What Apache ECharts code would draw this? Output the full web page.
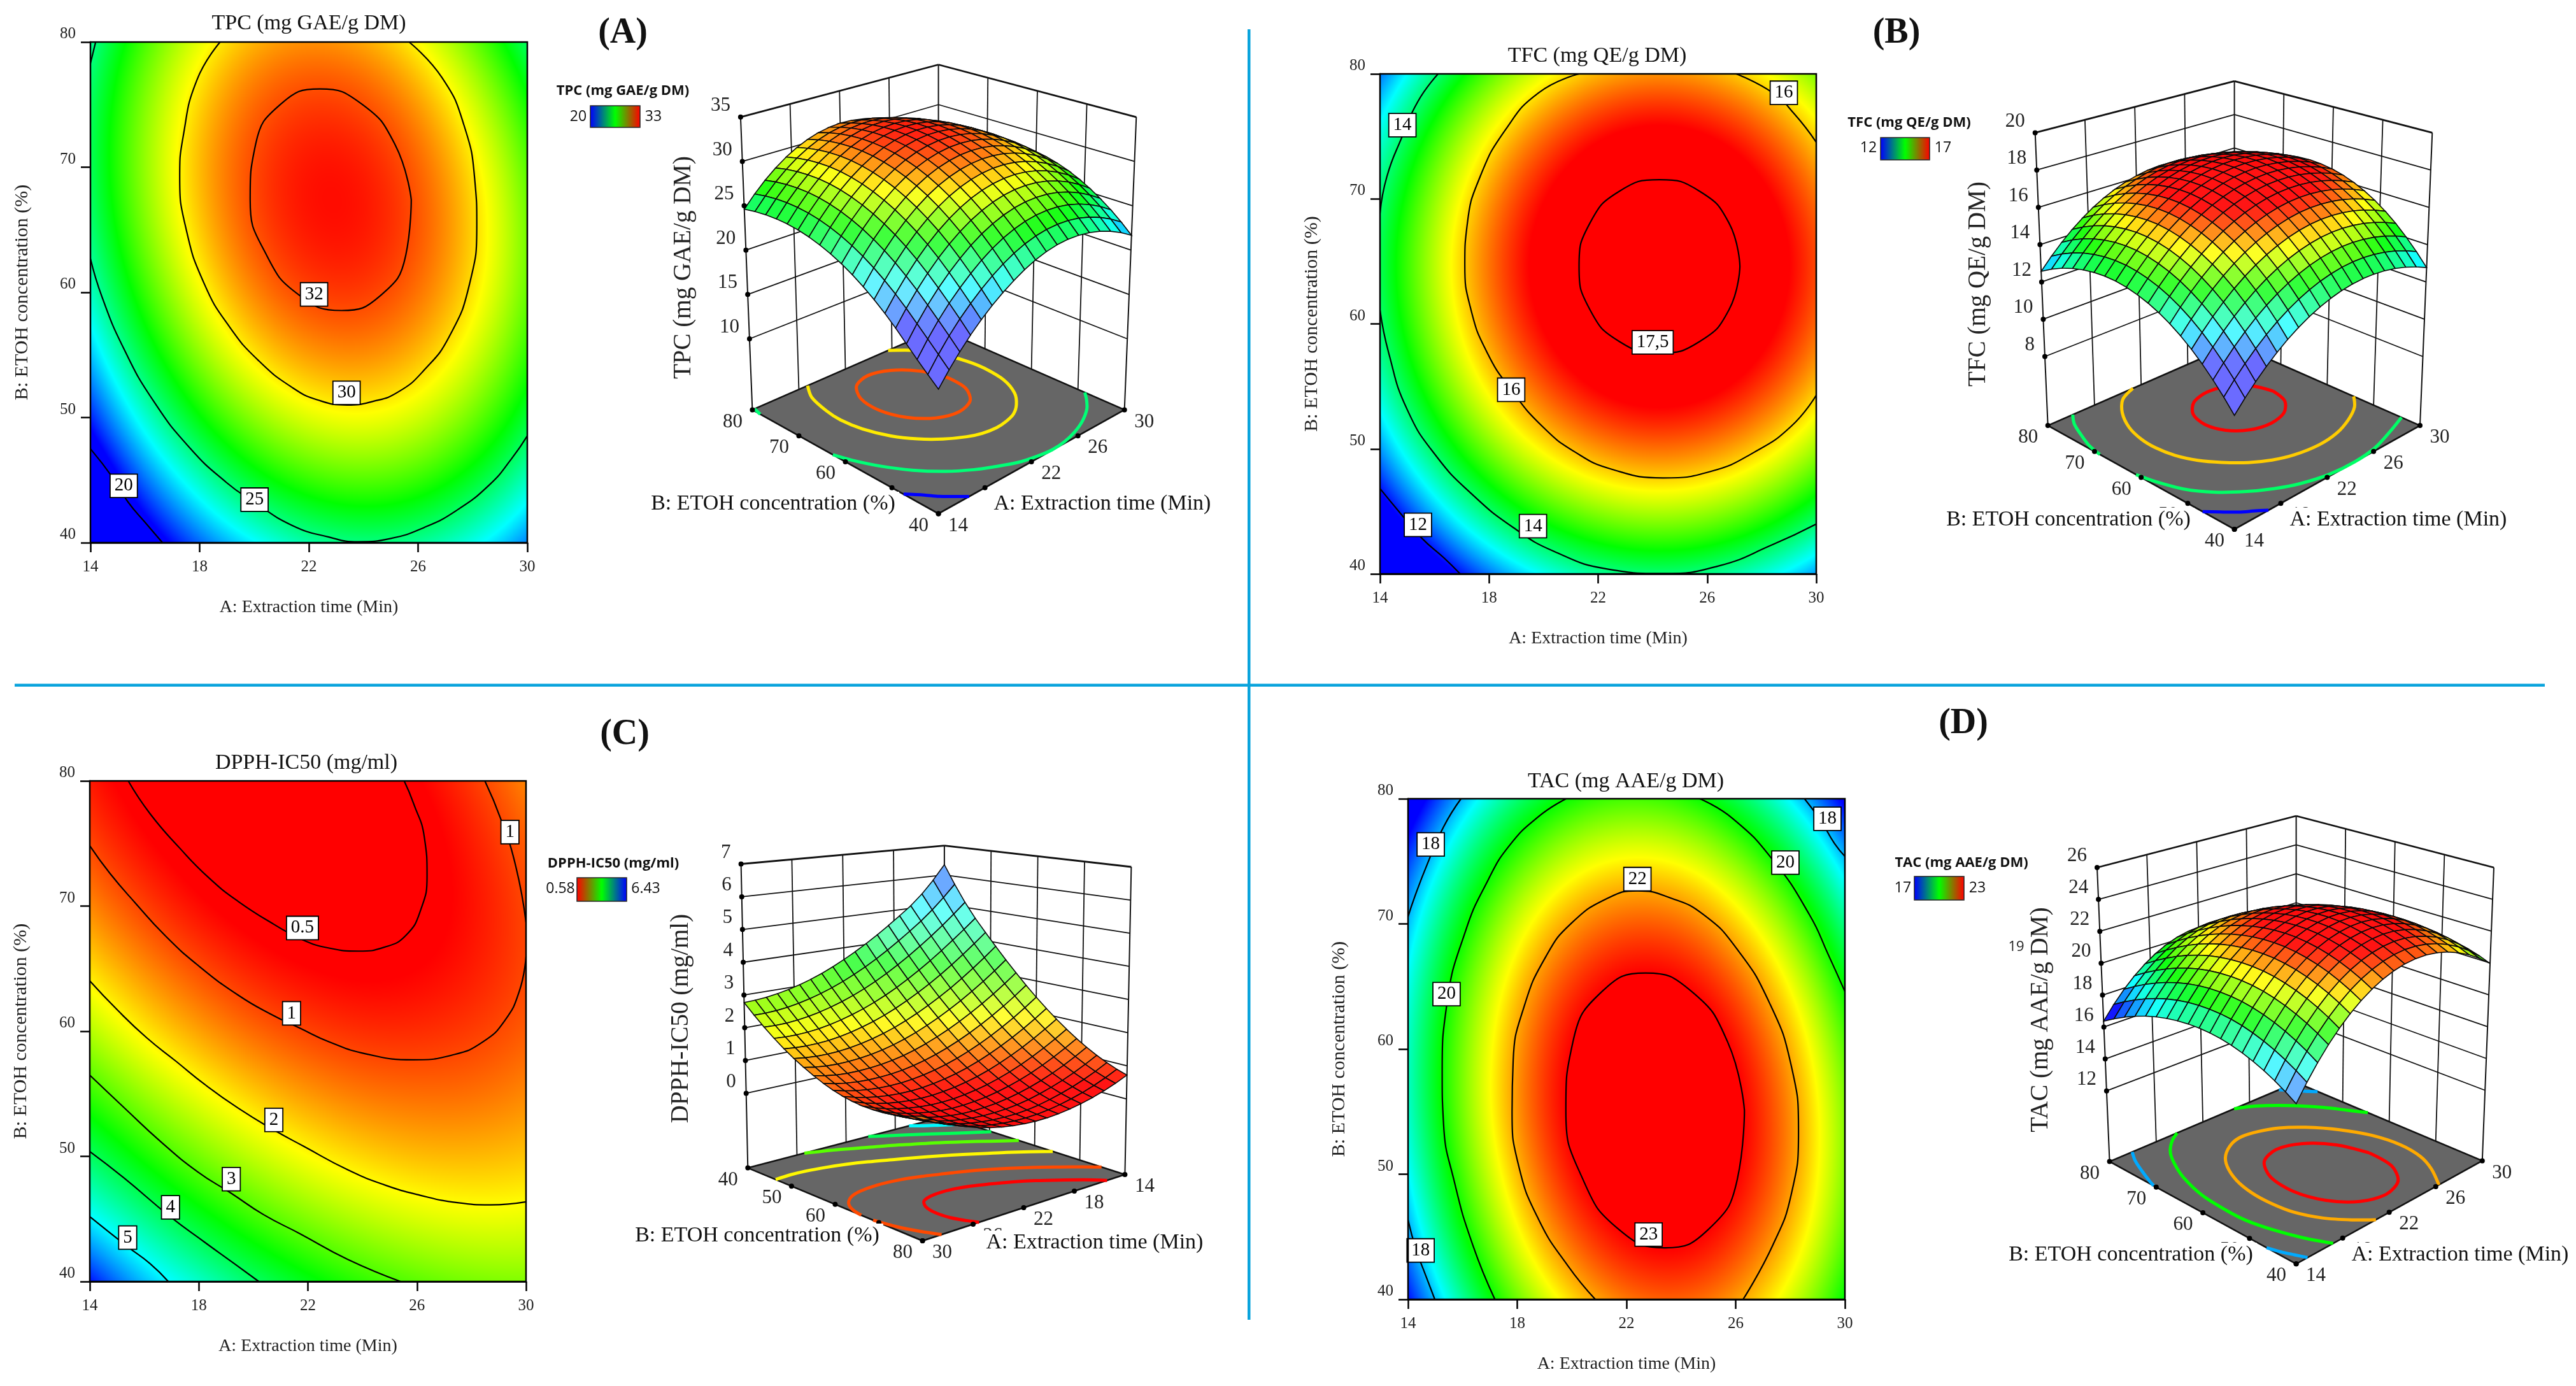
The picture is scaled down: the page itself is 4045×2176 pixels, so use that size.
<!DOCTYPE html>
<html><head><meta charset="utf-8"><style>html,body{margin:0;padding:0;background:#fff}#c{width:4045px;height:2176px}</style>
<script src="https://cdn.jsdelivr.net/npm/echarts@6/dist/echarts.min.js"></script></head>
<body><div id="c"></div><script>
// ---------- values ----------
const timeNodes=[14,16,18,20,22,24,26,28,30];
const etohNodes=[40,45,50,55,60,65,70,75,80];
const timeTicks=[14,18,22,26,30];
const etohTicks=[40,50,60,70,80];
const tpcGrid=[
[15.6,18.8,21.3,23.13,24.4,24.89,24.59,23.52,21.67],
[17.9,21.4,24.01,25.97,27.14,27.53,27.14,25.96,24.01],
[20.4,23.79,26.42,28.27,29.34,29.63,29.14,27.87,25.81],
[22.44,25.75,28.28,30.04,31.0,31.19,30.6,29.23,27.08],
[23.97,27.17,29.6,31.26,32.13,32.22,31.52,30.05,27.8],
[24.94,28.05,30.37,31.93,32.7,32.69,31.9,30.32,27.97],
[25.37,28.38,30.61,32.06,32.73,32.62,31.73,30.06,27.6],
[25.25,28.16,30.29,31.65,32.21,32.0,31.01,29.24,26.69],
[24.61,27.41,29.44,30.7,31.17,30.86,29.76,27.89,25.24]];
const tfcGrid=[
[10.22,11.53,12.56,13.30,13.76,13.94,13.83,13.44,12.77],
[11.63,12.94,13.97,14.71,15.17,15.35,15.24,14.85,14.18],
[12.73,14.04,15.07,15.81,16.27,16.45,16.34,15.95,15.28],
[13.50,14.81,15.84,16.58,17.04,17.22,17.11,16.72,16.05],
[13.95,15.26,16.29,17.03,17.49,17.67,17.56,17.17,16.50],
[14.09,15.40,16.43,17.17,17.63,17.81,17.70,17.31,16.64],
[13.90,15.21,16.24,16.98,17.44,17.62,17.51,17.12,16.45],
[13.40,14.71,15.74,16.48,16.94,17.12,17.01,16.62,15.95],
[12.57,13.88,14.91,15.65,16.11,16.29,16.18,15.79,15.12]];
const ic50Grid=[
[6.35,5.34,4.66,4.09,3.62,3.25,2.99,2.83,2.77],
[5.04,4.32,3.70,3.18,2.77,2.47,2.27,2.17,2.18],
[4.07,3.41,2.85,2.40,2.05,1.81,1.67,1.64,1.71],
[3.22,2.62,2.13,1.74,1.45,1.27,1.20,1.22,1.36],
[2.48,1.94,1.51,1.18,0.96,0.84,0.83,0.92,1.11],
[1.86,1.39,1.02,0.75,0.59,0.53,0.58,0.73,0.99],
[1.36,0.95,0.64,0.44,0.34,0.34,0.46,0.67,0.99],
[0.98,0.63,0.39,0.24,0.21,0.28,0.45,0.73,1.11],
[0.72,0.43,0.25,0.17,0.20,0.33,0.56,0.90,1.34]];
const tacGrid=[
[17.06,19.09,20.63,21.70,22.30,22.43,22.08,21.26,19.97],
[17.89,19.88,21.39,22.42,22.98,23.08,22.68,21.83,20.50],
[18.46,20.41,21.88,22.88,23.40,23.46,23.03,22.14,20.76],
[18.78,20.69,22.12,23.08,23.56,23.58,23.11,22.18,20.77],
[18.82,20.69,22.08,23.01,23.45,23.43,22.93,21.96,20.51],
[18.60,20.44,21.79,22.67,23.08,23.02,22.48,21.47,19.99],
[18.12,19.92,21.24,22.08,22.45,22.36,21.77,20.73,19.21],
[17.37,19.13,20.41,21.22,21.55,21.42,20.80,19.72,18.15],
[16.37,18.09,19.33,20.10,20.39,20.22,19.56,18.44,16.84]];
const tpcContours=[
{level:32,pts:[[25.75,67.4],[25.15,71.83],[23.93,75.06],[22.4,76.25],[20.98,75.06],[20.05,71.83],[19.85,67.4],[20.45,62.98],[21.67,59.74],[23.2,58.55],[24.62,59.74],[25.55,62.98],[25.75,67.4]]},
{level:30,pts:[[18.75,80],[17.9,76.97],[17.4,72.5],[17.27,69.23],[17.5,65.1],[18.18,60.63],[19.11,57.2],[20.18,54.5],[21.39,52.4],[22.33,51.4],[23.4,51],[24.33,51.28],[25.27,52.04],[26.21,53.76],[27.15,56.5],[27.88,60.63],[28.15,65.45],[28.08,68.89],[27.68,73.36],[26.88,77.14],[25.67,80]]},
{level:25,pts:[[14,62.7],[14.43,59.6],[15.23,55.47],[16.3,51.35],[17.64,47.57],[18.98,44.81],[19.98,43.27],[21.39,41.38],[22.73,40.45],[23.8,40.07],[25,40.34],[26.21,41.2],[27.41,42.58],[28.62,44.64],[29.42,46.7],[30,48.53]]},
{level:25,pts:[[14,78.3],[14.19,80]]},
{level:20,pts:[[14,47.5],[14.83,45.16],[15.37,43.27],[16.03,41.55],[16.64,40]]}];
const tpcLabels=[['32',22.19,59.84],['30',23.38,51.97],['25',20.01,43.44],['20',15.22,44.54]];
const tfcContours=[
{level:17.5,pts:[[27.2,64.6],[26.8,68.07],[25.73,70.6],[24.25,71.53],[22.77,70.6],[21.7,68.07],[21.3,64.6],[21.7,61.13],[22.77,58.6],[24.25,57.67],[25.73,58.6],[26.8,61.13],[27.2,64.6]]},
{level:16,pts:[[21.3,80],[19.82,78.49],[18.61,75.56],[17.67,71.77],[17.2,67.99],[17.11,64.72],[17.34,61.1],[17.94,57.66],[18.81,54.73],[19.95,51.81],[21.16,49.74],[22.5,48.37],[24.38,47.68],[26.12,48.19],[27.73,49.74],[29.08,51.81],[30,54.29]]},
{level:16,pts:[[27.06,80],[28.4,78.49],[29.21,76.76],[30,74.53]]},
{level:14,pts:[[16.13,80],[15.39,77.8],[14.79,74.87],[14.25,71.77],[14,68.85]]},
{level:14,pts:[[14,61.1],[14.32,57.66],[14.99,53.18],[16.07,49.4],[17.41,46.3],[18.88,43.72],[20.36,41.82],[22.37,40.38],[24.38,40.03],[26.39,40.62],[28.4,42.34],[30,43.99]]},
{level:12,pts:[[14,46.82],[14.72,44.92],[15.53,42.86],[16.33,41.31],[16.94,40]]}];
const tfcLabels=[['17,5',24.0,58.52],['16',18.81,54.73],['16',28.81,78.49],['14',14.82,75.9],['14',19.61,43.82],['12',15.39,43.92]];
const ic50Contours=[
{level:0.5,pts:[[15.41,80],[16.21,77.38],[17.29,74.65],[18.36,72.27],[19.43,70.39],[20.77,68.52],[21.78,67.33],[22.78,66.64],[23.86,66.4],[24.8,66.71],[25.6,67.67],[26.14,69.71],[26.37,72.44],[26.27,75.5],[25.87,78.23],[25.53,80]]},
{level:1,pts:[[14,74.82],[14.74,72.61],[15.68,70.22],[16.75,67.67],[17.96,65.28],[19.43,62.9],[20.64,61.36],[21.71,60.24],[22.78,59.15],[24.13,58.19],[25.87,57.72],[27.35,58.13],[28.42,59.15],[29.22,60.85],[29.76,63.24],[30,65.96]]},
{level:1,pts:[[28.49,80],[29.09,76.87],[29.63,73.12],[30,68.69]]},
{level:2,pts:[[14,64.02],[15.01,61.7],[16.08,59.49],[17.15,57.62],[18.22,55.74],[19.43,53.87],[20.71,52.16],[21.85,50.8],[23.46,48.93],[24.8,47.73],[26.14,46.88],[27.48,46.3],[28.69,46.13],[30,46.37]]},
{level:3,pts:[[14,56.49],[15.27,53.87],[16.62,51.14],[17.96,48.76],[19.19,47.05],[20.37,45.35],[21.71,43.82],[23.46,41.77],[25.4,40]]},
{level:4,pts:[[14,50.39],[15.27,48.25],[16.95,45.18],[18.22,43.13],[19.3,41.43],[20.2,40]]},
{level:5,pts:[[14,45.18],[15.38,42.79],[16.21,41.43],[16.88,40]]}];
const ic50Labels=[['0.5',21.8,68.25],['1',21.4,61.43],['1',29.41,75.91],['2',20.75,52.91],['3',19.19,48.18],['4',16.96,45.93],['5',15.39,43.51]];
const tacContours=[
{level:23,pts:[[26.32,55.1],[25.7,60.59],[24.38,64.61],[22.7,66.08],[21.11,64.61],[20.04,60.59],[19.78,55.1],[20.4,49.61],[21.72,45.59],[23.4,44.12],[25.0,45.59],[26.06,49.61],[26.32,55.1]]},
{level:22,pts:[[20.86,40],[19.86,42.67],[18.79,46.35],[18.05,50.69],[17.81,55.03],[17.85,59.04],[18.25,63.39],[19.05,67.4],[19.99,70.07],[21.33,72.07],[22.4,72.64],[23.61,72.07],[24.82,70.74],[26.02,68.07],[27.23,63.72],[28.03,58.71],[28.3,53.36],[28.03,48.35],[27.36,44.34],[26.27,40]]},
{level:20,pts:[[17.18,40],[16.37,44.34],[15.7,49.36],[15.3,54.03],[15.25,58.04],[15.43,63.72],[16.1,69.4],[16.91,73.41],[17.71,76.25],[18.79,78.59],[19.79,80]]},
{level:20,pts:[[24.68,80],[25.89,78.42],[27.37,75.08],[28.7,70.74],[29.4,67.5],[30,64.6]]},
{level:18,pts:[[15.94,80],[15.3,77.75],[14.7,74.75],[14.23,72.08],[14,70.57]]},
{level:18,pts:[[14,46.35],[14.29,44.01],[14.63,42],[14.98,40]]},
{level:18,pts:[[28.52,80],[29.11,78.26],[29.62,76.42],[30,75.4]]}];
const tacLabels=[['22',22.4,73.58],['23',22.81,45.18],['20',15.41,64.39],['20',27.82,74.9],['18',14.83,76.35],['18',14.46,43.91],['18',29.36,78.4]];
const tpcZTicks=[10,15,20,25,30,35];
const tfcZTicks=[8,10,12,14,16,18,20];
const ic50ZTicks=[0,1,2,3,4,5,6,7];
const tacZTicks=[12,14,16,18,20,22,24,26];

// ---------- layout ----------
const SERIF='"Liberation Serif"';
const panels=[
{grid:tpcGrid,contours:tpcContours,labels:tpcLabels,zTicks:tpcZTicks,min:20,max:33,invert:false,lo:'20',hi:'33',
 title:'TPC (mg GAE/g DM)',plot:{l:142,r:828,t:66,b:852},titleAt:[485,37],yNameX:34,
 tag:'(A)',tagAt:[978,53],legAt:[978,143],bar:[927,166,78,34],loAt:[908,183],hiAt:[1026,183],
 zFloor:2,zTop:35,corner:{L:[14,80],B:[30,80],R:[30,40],F:[14,40]},
 floor:{L:[1181.4,643.4],F:[1473.6,806.4],R:[1765.7,643.4],B:[1473.6,515.6]},
 top:{L:[1162.9,183.8],F:[1473.6,332.4],R:[1784.3,183.8],B:[1473.6,101.5]},
 zTitleAt:[1074,420],bTitleAt:[1214,791],aTitleAt:[1731,791]},
{grid:tfcGrid,contours:tfcContours,labels:tfcLabels,zTicks:tfcZTicks,min:12,max:17,invert:false,lo:'12',hi:'17',
 title:'TFC (mg QE/g DM)',plot:{l:2167,r:2852,t:116,b:901},titleAt:[2508,88],yNameX:2059,
 tag:'(B)',tagAt:[2978,53],legAt:[2998,193],bar:[2953,216,77,35],loAt:[2934,232],hiAt:[3051,232],
 zFloor:4.3,zTop:20,corner:{L:[14,80],B:[30,80],R:[30,40],F:[14,40]},
 floor:{L:[3215.7,668.1],F:[3508.6,831],R:[3800,668.1],B:[3508.6,540]},
 top:{L:[3195.7,208.4],F:[3508.6,357],R:[3819.3,208.4],B:[3508.6,127.3]},
 zTitleAt:[3107,446],bTitleAt:[3248,816],aTitleAt:[3766,816]},
{grid:ic50Grid,contours:ic50Contours,labels:ic50Labels,zTicks:ic50ZTicks,min:0.58,max:6.43,invert:true,lo:'0.58',hi:'6.43',
 title:'DPPH-IC50 (mg/ml)',plot:{l:141,r:826,t:1226,b:2012},titleAt:[481,1198],yNameX:32,
 tag:'(C)',tagAt:[981,1154],legAt:[963,1356],bar:[906,1378,78,37],loAt:[880,1395],hiAt:[1014,1395],
 zFloor:-2.28,zTop:7,corner:{L:[30,40],B:[14,40],R:[14,80],F:[30,80]},
 floor:{L:[1174.3,1833.6],F:[1448.6,1948],R:[1766.4,1844.1],B:[1482.9,1753]},
 top:{L:[1163.6,1356.5],F:[1444,1446],R:[1776.4,1361],B:[1482.9,1327.7]},
 zTitleAt:[1070,1599],bTitleAt:[1189,1940],aTitleAt:[1719,1951]},
{grid:tacGrid,contours:tacContours,labels:tacLabels,zTicks:tacZTicks,min:17,max:23,invert:false,lo:'17',hi:'23',
 title:'TAC (mg AAE/g DM)',plot:{l:2211,r:2897,t:1254,b:2040},titleAt:[2553,1227],yNameX:2102,
 tag:'(D)',tagAt:[3083,1137],legAt:[3080,1355],bar:[3006,1376,78,37],loAt:[2988,1394],hiAt:[3105,1394],
 zFloor:7.57,zTop:26,corner:{L:[14,80],B:[30,80],R:[30,40],F:[14,40]},
 floor:{L:[3312.6,1823.6],F:[3605.6,1984.3],R:[3897.8,1822.4],B:[3605.6,1699.5]},
 top:{L:[3293,1362],F:[3605.6,1496],R:[3916,1362],B:[3605.6,1281]},
 zTitleAt:[3205,1601],bTitleAt:[3346,1970],aTitleAt:[3863,1970]}];
const MESH=18;

// ---------- shading helpers ----------
const stops=[[0,0,255],[0,255,255],[0,255,0],[255,255,0],[255,0,0]];
function rgbOf(p,v){
  let t=(v-p.min)/(p.max-p.min); if(p.invert)t=1-t; t=Math.max(0,Math.min(1,t))*4;
  const i=Math.min(3,Math.floor(t)),f=t-i,a=stops[i],b=stops[i+1];
  return [a[0]+(b[0]-a[0])*f,a[1]+(b[1]-a[1])*f,a[2]+(b[2]-a[2])*f];
}
function css(c){return 'rgb('+Math.round(c[0])+','+Math.round(c[1])+','+Math.round(c[2])+')';}
// smooth shading between the read nodes (4-node cubic, ghost nodes outside the table)
function ghost(g,r,c){
  const n=g.length;
  if(r<0)return 3*ghost(g,0,c)-3*ghost(g,1,c)+ghost(g,2,c);
  if(r>=n)return 3*ghost(g,n-1,c)-3*ghost(g,n-2,c)+ghost(g,n-3,c);
  if(c<0)return 3*g[r][0]-3*g[r][1]+g[r][2];
  if(c>=n)return 3*g[r][n-1]-3*g[r][n-2]+g[r][n-3];
  return g[r][c];
}
function cr(p0,p1,p2,p3,t){return p1+0.5*t*(p2-p0+t*(2*p0-5*p1+4*p2-p3+t*(3*(p1-p2)+p3-p0)));}
function shade(g,A,B){
  const fx=(A-14)/2,fy=(B-40)/5;
  const c=Math.min(7,Math.floor(fx)),r=Math.min(7,Math.floor(fy)),tx=fx-c,ty=fy-r;
  const row=[];
  for(let k=-1;k<=2;k++)row.push(cr(ghost(g,r+k,c-1),ghost(g,r+k,c),ghost(g,r+k,c+1),ghost(g,r+k,c+2),tx));
  return cr(row[0],row[1],row[2],row[3],ty);
}
function cornerAt(p,a,b){for(const k in p.corner){const c=p.corner[k];if(c[0]===a&&c[1]===b)return k;}}
panels.forEach(p=>{p.k00=cornerAt(p,14,40);p.k10=cornerAt(p,30,40);p.k01=cornerAt(p,14,80);p.k11=cornerAt(p,30,80);p.front=p.k00==='F'?-1:1;});
function project(p,A,B,z){
  const u=(A-14)/16,v=(B-40)/40,w=(z-p.zFloor)/(p.zTop-p.zFloor);
  const bl=(s,d)=>s[p.k00][d]*(1-u)*(1-v)+s[p.k10][d]*u*(1-v)+s[p.k01][d]*(1-u)*v+s[p.k11][d]*u*v;
  const f=[bl(p.floor,0),bl(p.floor,1)],t=[bl(p.top,0),bl(p.top,1)];
  return [f[0]+(t[0]-f[0])*w,f[1]+(t[1]-f[1])*w];
}

// ---------- option ----------
const grids=[],xAxes=[],yAxes=[],series=[],visualMaps=[],gfx=[];
const tickFont={fontFamily:SERIF,fontSize:25,color:'#222'};
panels.forEach((p,idx)=>{
  const P=p.plot;
  grids.push({left:P.l,top:P.t,width:P.r-P.l,height:P.b-P.t,show:true,z:10,backgroundColor:'transparent',borderColor:'#000',borderWidth:2.5,containLabel:false});
  xAxes.push({type:'value',gridIndex:idx,min:14,max:30,interval:4,splitLine:{show:false},
    axisLine:{onZero:false,lineStyle:{color:'#000',width:2.5}},axisTick:{length:15,lineStyle:{color:'#000',width:2.5}},
    axisLabel:Object.assign({margin:26,formatter:'{value}'},tickFont),
    name:'A: Extraction time (Min)',nameLocation:'middle',nameGap:88,nameTextStyle:{fontFamily:SERIF,fontSize:28,color:'#222'}});
  yAxes.push({type:'value',gridIndex:idx,min:40,max:80,interval:10,splitLine:{show:false},
    axisLine:{onZero:false,lineStyle:{color:'#000',width:2.5}},axisTick:{length:15,lineStyle:{color:'#000',width:2.5}},
    axisLabel:Object.assign({margin:23,verticalAlign:'bottom',formatter:'{value}'},tickFont),
    name:'B: ETOH concentration (%)',nameLocation:'middle',nameGap:P.l-p.yNameX-16,nameTextStyle:{fontFamily:SERIF,fontSize:30,color:'#222'}});
});
grids.push({left:0,top:0,width:4045,height:2176,show:false});
xAxes.push({type:'value',gridIndex:4,min:0,max:4045,show:false});
yAxes.push({type:'value',gridIndex:4,min:0,max:2176,inverse:true,show:false});

panels.forEach((p,idx)=>{
  // contour-plot colour field, one block per read node
  const nodes=[];
  p.grid.forEach((row,r)=>row.forEach((v,c)=>nodes.push([timeNodes[c],etohNodes[r],v])));
  const heatIdx=series.length;
  series.push({type:'custom',xAxisIndex:idx,yAxisIndex:idx,data:nodes,z:1,silent:true,clip:true,
    renderItem(params,api){
      const A=api.value(0),B=api.value(1);
      const A0=Math.max(14,A-1),A1=Math.min(30,A+1),B0=Math.max(40,B-2.5),B1=Math.min(80,B+2.5);
      const a=api.coord([A0,B1]),b=api.coord([A1,B0]);
      const x=Math.round(a[0]),y=Math.round(a[1]),w=Math.round(b[0])-x,h=Math.round(b[1])-y;
      const cv=document.createElement('canvas');cv.width=w;cv.height=h;
      const ctx=cv.getContext('2d'),im=ctx.createImageData(w,h);
      let o=0;
      for(let j=0;j<h;j++){const Bv=B1+(j+.5)/h*(B0-B1);
        for(let i=0;i<w;i++){const Av=A0+(i+.5)/w*(A1-A0),c=rgbOf(p,shade(p.grid,Av,Bv));
          im.data[o++]=c[0];im.data[o++]=c[1];im.data[o++]=c[2];im.data[o++]=255;}}
      ctx.putImageData(im,0,0);
      return {type:'image',style:{image:cv,x,y,width:w,height:h}};
    }});
  visualMaps.push({type:'continuous',seriesIndex:heatIdx,dimension:2,min:p.min,max:p.max,orient:'horizontal',show:true,
    left:p.bar[0],top:p.bar[1],itemWidth:p.bar[3],itemHeight:p.bar[2],padding:0,text:null,calculable:false,hoverLink:false,
    inRange:{color:p.invert?['#ff0000','#00ff00','#0000ff']:['#0000ff','#00ff00','#ff0000']},outOfRange:{color:['#888']}});
  // contour lines
  p.contours.forEach(c=>series.push({type:'line',xAxisIndex:idx,yAxisIndex:idx,data:c.pts,showSymbol:false,symbol:'none',z:3,silent:true,
    smooth:0.5,lineStyle:{color:'#000',width:2.2}}));
  series.push({type:'scatter',xAxisIndex:idx,yAxisIndex:idx,symbolSize:1,itemStyle:{color:'rgba(0,0,0,0)',opacity:1},z:4,silent:true,
    data:p.labels.map(l=>({name:l[0],value:[l[1],l[2]]})),
    labelLayout:{hideOverlap:false},
    label:{show:true,position:'inside',formatter:'{b}',fontFamily:SERIF,fontSize:29,color:'#000',backgroundColor:'#fff',borderColor:'#000',borderWidth:1.8,padding:[4,6,2,6],opacity:1}});
  // 3-D frame: walls, floor
  const cA=p.corner,Ab=cA.B[0],Bb=cA.B[1];
  series.push({type:'custom',xAxisIndex:4,yAxisIndex:4,data:[[0,0]],z:5,silent:true,clip:false,
    renderItem(params,api){
      const pt=(a,b,z)=>api.coord(project(p,a,b,z));
      const kids=[];
      const seg=(q,r,w)=>kids.push({type:'line',shape:{x1:q[0],y1:q[1],x2:r[0],y2:r[1]},style:{stroke:'#111',lineWidth:w}});
      timeTicks.forEach(a=>{if(a!==14&&a!==30)seg(pt(a,Bb,p.zFloor),pt(a,Bb,p.zTop),1.8);});
      etohTicks.forEach(b=>{if(b!==40&&b!==80)seg(pt(Ab,b,p.zFloor),pt(Ab,b,p.zTop),1.8);});
      p.zTicks.forEach(z=>{
        const w=z===p.zTop?2.8:1.8;
        seg(pt(cA.L[0],cA.L[1],z),pt(cA.B[0],cA.B[1],z),w);
        seg(pt(cA.B[0],cA.B[1],z),pt(cA.R[0],cA.R[1],z),w);
      });
      ['L','B','R'].forEach(k=>seg(pt(cA[k][0],cA[k][1],p.zFloor),pt(cA[k][0],cA[k][1],p.zTop),2));
      kids.push({type:'polygon',shape:{points:['L','F','R','B'].map(k=>pt(cA[k][0],cA[k][1],p.zFloor))},style:{fill:'#666666',stroke:'#111',lineWidth:2.6}});
      return {type:'group',children:kids};
    }});
  // contours repeated on the floor
  series.push({type:'custom',xAxisIndex:4,yAxisIndex:4,data:p.contours.map((c,i)=>[i,c.level]),z:6,silent:true,clip:false,
    renderItem(params,api){
      const c=p.contours[api.value(0)];
      return {type:'polyline',shape:{points:c.pts.map(q=>api.coord(project(p,q[0],q[1],p.zFloor))),smooth:0.3},
        style:{fill:'none',stroke:css(rgbOf(p,c.level)),lineWidth:5}};
    }});
  // response surface, far cells first
  const cells=[];
  for(let a=0;a<MESH;a++)for(let b=0;b<MESH;b++)cells.push([a,b]);
  if(p.front<0)cells.reverse();
  series.push({type:'custom',xAxisIndex:4,yAxisIndex:4,data:cells,z:7,silent:true,clip:false,
    renderItem(params,api){
      const a=api.value(0),b=api.value(1);
      const A0=14+16*a/MESH,A1=14+16*(a+1)/MESH,B0=40+40*b/MESH,B1=40+40*(b+1)/MESH;
      const z00=shade(p.grid,A0,B0),z10=shade(p.grid,A1,B0),z11=shade(p.grid,A1,B1),z01=shade(p.grid,A0,B1);
      const span=p.zTop-p.zFloor;
      const gu=(z10+z11-z00-z01)/2/span*MESH,gv=(z01+z11-z00-z10)/2/span*MESH;
      const s=-(gu*p.front+gv*p.front);
      let c=rgbOf(p,(z00+z10+z11+z01)/4),white,dark=1;
      if(s>0){white=Math.min(.42,.07+.15*s*s*s);}else{white=.05;dark=Math.max(.82,1+.15*s);}
      c=c.map(x=>(x+(255-x)*white)*dark);
      return {type:'polygon',shape:{points:[[A0,B0,z00],[A1,B0,z10],[A1,B1,z11],[A0,B1,z01]].map(q=>api.coord(project(p,q[0],q[1],q[2])))},
        style:{fill:css(c),stroke:'#0a0a0a',lineWidth:1.6}};
    }});
  // 3-D dots and tick labels
  series.push({type:'custom',xAxisIndex:4,yAxisIndex:4,data:[[0,0]],z:8,silent:true,clip:false,
    renderItem(params,api){
      const kids=[];
      const dot=q=>kids.push({type:'circle',shape:{cx:q[0],cy:q[1],r:4},style:{fill:'#000'}});
      const lab=(txt,q,dx,dy,al)=>kids.push({type:'text',x:q[0]+dx,y:q[1]+dy,style:{text:String(txt),font:'31px '+SERIF,fill:'#222',textAlign:al,align:al,verticalAlign:'middle',textVerticalAlign:'middle'}});
      p.zTicks.forEach(z=>{const q=api.coord(project(p,cA.L[0],cA.L[1],z));dot(q);lab(z,q,-16,-18,'right');});
      etohTicks.forEach(b=>{
        // ETOH ruler runs on the L–F edge
        const a=cA.L[0];const q=api.coord(project(p,a,b,p.zFloor));dot(q);lab(b,q,-31,19,'center');});
      timeTicks.forEach(a=>{
        const b=cA.R[1];const q=api.coord(project(p,a,b,p.zFloor));dot(q);lab(a,q,31,19,'center');});
      return {type:'group',children:kids};
    }});
  // page text
  const txt=(t,at,font,extra)=>gfx.push(Object.assign({type:'text',x:at[0],y:at[1],z:100,silent:true,
    style:Object.assign({text:t,font,fill:'#111',textAlign:'center',align:'center',verticalAlign:'middle',textVerticalAlign:'middle'},extra||{})}));
  txt(p.title,p.titleAt,'34px '+SERIF);
  txt(p.tag,p.tagAt,'bold 56px '+SERIF);
  txt(p.title,p.legAt,'bold 22px "Open Sans"');
  txt(p.lo,p.loAt,'23px "Open Sans"');
  txt(p.hi,p.hiAt,'23px "Open Sans"');
  gfx.push({type:'rect',z:100,silent:true,shape:{x:p.bar[0],y:p.bar[1],width:p.bar[2],height:p.bar[3]},style:{fill:'none',stroke:'#222',lineWidth:1.5}});
  gfx.push({type:'text',x:p.zTitleAt[0],y:p.zTitleAt[1],rotation:Math.PI/2,z:100,silent:true,
    style:{text:p.title,font:'39px '+SERIF,fill:'#222',textAlign:'center',align:'center',verticalAlign:'middle',textVerticalAlign:'middle'}});
  txt('B: ETOH concentration (%)',p.bTitleAt,'34px '+SERIF,{backgroundColor:'#fff',padding:[2,6]});
  txt('A: Extraction time (Min)',p.aTitleAt,'34px '+SERIF,{backgroundColor:'#fff',padding:[2,6]});
});
gfx.push({type:'text',x:3166,y:1487,z:100,silent:true,style:{text:'19',font:'22px "Open Sans"',fill:'#222',textAlign:'center',align:'center',verticalAlign:'middle',textVerticalAlign:'middle'}});
gfx.push({type:'rect',z:90,silent:true,shape:{x:1959,y:46,width:4.5,height:2026},style:{fill:'#08a3dc'}});
gfx.push({type:'rect',z:90,silent:true,shape:{x:23,y:1073.5,width:3973,height:4.5},style:{fill:'#08a3dc'}});

const chart=echarts.init(document.getElementById('c'),null,{renderer:'canvas',width:4045,height:2176,devicePixelRatio:1});
chart.setOption({animation:false,backgroundColor:'#fff',grid:grids,xAxis:xAxes,yAxis:yAxes,series,visualMap:visualMaps,graphic:{elements:gfx},tooltip:{show:false}});
</script></body></html>
